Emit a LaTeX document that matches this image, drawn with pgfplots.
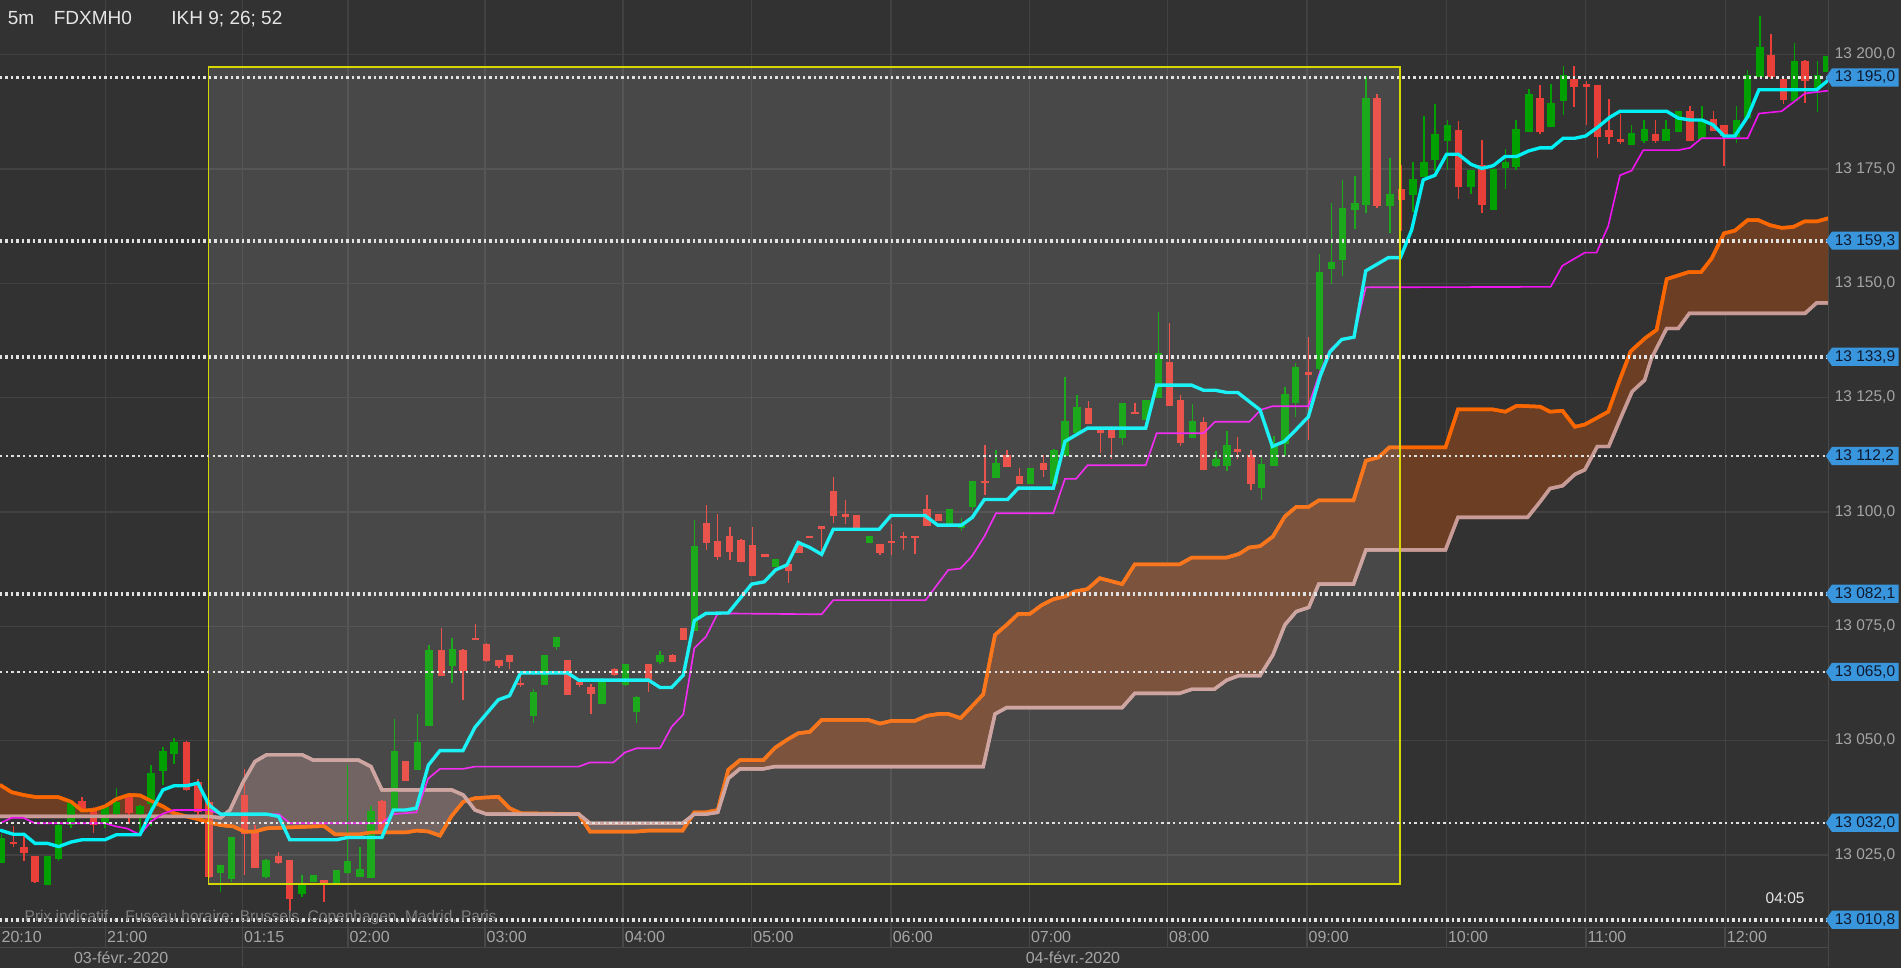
\documentclass[border=0pt]{standalone}
\usepackage{pgfplots}
\pgfplotsset{compat=1.18}
\usepackage{pgfplotstable}
\usepgfplotslibrary{fillbetween}
\usepackage{fontspec}
\setmainfont{Liberation Sans}
\definecolor{bgc}{RGB}{50,50,50}
\definecolor{gridc}{RGB}{66,66,66}
\definecolor{cgreen}{RGB}{0,160,0}
\definecolor{cred}{RGB}{232,64,56}
\definecolor{ccyan}{RGB}{0,240,245}
\definecolor{cmag}{RGB}{240,20,240}
\definecolor{corange}{RGB}{250,102,0}
\definecolor{ctan}{RGB}{200,155,150}
\definecolor{cbrown}{RGB}{108,62,36}
\definecolor{cpink}{RGB}{96,82,80}
\definecolor{cyel}{RGB}{215,215,0}
\definecolor{cdot}{RGB}{225,225,225}
\definecolor{ctick}{RGB}{165,165,165}
\definecolor{cblue}{RGB}{58,150,220}
\definecolor{cbtext}{RGB}{15,25,45}
\definecolor{csep}{RGB}{72,72,72}
\definecolor{ctitle}{RGB}{230,230,230}
\definecolor{cnote}{RGB}{125,125,125}
\newcommand\tickfont{\fontsize{6.2bp}{7bp}\selectfont}
\newcommand\timefont{\fontsize{6.4bp}{7bp}\selectfont}
\newcommand\titlefont{\fontsize{7.6bp}{9bp}\selectfont}

\pgfplotstableread{
x bt bb hi lo
1.4 13028.6 13023.5 13029.5 13023.2
39.3 13024.7 13018.6 13024.8 13018.5
48.4 13031.5 13024.2 13032.5 13023.7
58.6 13036.5 13031.9 13037.0 13030.9
86.6 13035.3 13031.9 13035.9 13030.9
96 13036.6 13034.2 13039.7 13033.8
115.5 13035.6 13034.3 13036.1 13030.1
124.6 13042.8 13036.3 13044.8 13031.5
134.4 13047.6 13043.6 13048.6 13040.3
143.5 13049.6 13047.4 13050.7 13045.0
182 13022.6 13021.3 13022.9 13017.0
191 13028.8 13019.9 13029.0 13019.2
219.4 13023.7 13020.3 13024.0 13020.0
249 13018.4 13016.6 13020.6 13015.9
258.5 13020.6 13019.4 13020.8 13019.2
277.6 13021.5 13018.6 13021.8 13018.4
286.7 13023.6 13021.3 13044.8 13021.0
296.9 13021.7 13020.2 13026.8 13020.1
306 13034.6 13020.2 13035.7 13020.1
325.5 13047.6 13035.2 13054.8 13035.1
344.5 13049.6 13043.6 13055.8 13043.5
353.8 13069.8 13053.4 13070.9 13053.3
373 13069.8 13066.4 13072.6 13062.6
439.9 13060.6 13055.6 13061.4 13053.9
449 13068.7 13062.4 13068.8 13062.3
459.1 13072.5 13070.7 13072.5 13069.9
496.5 13063.5 13058.3 13063.7 13058.2
516 13066.6 13062.4 13066.9 13062.1
525.1 13059.4 13056.5 13059.8 13053.8
544.4 13068.7 13067.4 13069.8 13066.9
572.7 13092.6 13074.3 13098.4 13074.2
639.7 13089.6 13088.2 13089.7 13088.1
717 13094.7 13093.5 13094.7 13093.5
783 13100.6 13097.5 13100.6 13097.5
793.2 13097.0 13096.8 13098.6 13095.9
802 13106.7 13101.3 13106.9 13100.6
821.5 13110.5 13107.5 13113.5 13107.3
849.8 13109.7 13106.4 13109.7 13106.4
869.3 13113.5 13106.4 13113.8 13106.3
878.4 13119.7 13112.3 13129.7 13112.3
888.3 13122.8 13117.4 13125.6 13117.3
926 13123.7 13116.4 13123.9 13114.6
945.3 13124.4 13120.4 13124.4 13120.4
955.7 13134.7 13125.2 13143.6 13124.8
983.8 13119.7 13116.4 13123.7 13116.4
1003 13111.5 13110.2 13113.5 13109.9
1012.1 13114.5 13110.2 13117.7 13108.8
1040.7 13110.4 13105.4 13112.4 13102.6
1050.8 13114.3 13110.2 13116.6 13109.9
1059.9 13125.6 13115.0 13127.5 13112.4
1068.7 13131.6 13124.1 13132.7 13120.8
1088.2 13152.4 13131.4 13156.5 13130.6
1098.4 13154.6 13153.3 13167.5 13149.8
1107.5 13166.4 13155.3 13172.6 13151.6
1117.7 13167.5 13166.2 13173.5 13161.8
1126.7 13190.4 13167.3 13195.5 13165.5
1146.5 13169.4 13167.2 13177.3 13160.9
1165.5 13172.6 13169.3 13176.4 13165.5
1174.5 13176.4 13173.5 13186.6 13173.5
1183.6 13182.6 13177.1 13189.3 13174.6
1194 13184.6 13181.3 13185.7 13174.8
1213.3 13174.8 13171.3 13174.8 13169.6
1231.7 13174.8 13166.2 13174.8 13166.2
1241.6 13176.4 13175.5 13179.5 13170.8
1250.4 13183.5 13175.5 13185.7 13174.8
1261.1 13191.4 13183.4 13192.5 13183.3
1279.3 13189.3 13184.4 13193.5 13184.4
1289.4 13195.5 13190.2 13197.6 13186.8
1345.8 13182.6 13180.4 13184.6 13180.3
1356.2 13183.5 13181.3 13185.7 13180.6
1374.1 13183.5 13181.3 13185.7 13181.2
1384.6 13187.6 13183.4 13187.6 13183.4
1403.8 13185.7 13181.7 13188.8 13181.6
1432.4 13185.7 13182.3 13188.8 13180.6
1441.5 13195.5 13186.4 13196.6 13186.3
1451.7 13201.7 13195.3 13208.6 13195.2
1480 13198.6 13190.2 13202.5 13190.2
1499.2 13195.5 13193.0 13198.6 13187.6
1506.6 13199.6 13196.4 13199.7 13196.3
}\greenT

\pgfplotstableread{
x bt bb hi lo
11 13027.8 13027.5 13031.5 13026.8
19.8 13026.6 13025.5 13029.7 13023.7
28.9 13024.7 13019.3 13024.8 13018.9
67.6 13036.6 13035.3 13037.8 13034.5
77 13034.6 13031.9 13035.6 13029.9
106.4 13037.5 13034.3 13038.3 13031.9
154 13049.6 13039.4 13050.0 13039.1
163.3 13040.7 13034.5 13041.7 13033.8
172.4 13036.3 13020.3 13037.0 13020.0
201.5 13037.8 13029.7 13043.9 13020.6
210.3 13029.9 13022.4 13031.5 13022.4
229.9 13024.8 13023.4 13025.8 13023.2
239 13023.7 13015.6 13024.0 13012.8
267.2 13019.5 13018.8 13019.7 13014.8
315 13036.6 13030.1 13037.0 13029.8
334.3 13045.5 13041.5 13045.7 13041.3
364 13069.8 13064.3 13074.7 13064.3
381.9 13069.8 13065.3 13070.1 13059.0
392.3 13072.4 13072.1 13075.6 13072.1
401.4 13070.9 13067.4 13071.5 13067.3
411.6 13067.6 13066.5 13067.7 13065.8
420.4 13068.7 13067.4 13068.8 13065.8
429.4 13062.5 13062.3 13065.4 13061.8
468.2 13067.6 13060.3 13067.7 13060.3
477.8 13062.7 13062.4 13063.5 13061.9
487.4 13061.6 13060.3 13062.5 13055.9
506.7 13065.6 13064.5 13065.9 13064.3
535 13066.6 13063.4 13066.9 13060.7
554.8 13068.7 13067.4 13068.9 13067.3
563.6 13074.5 13072.2 13074.7 13072.1
582.8 13097.5 13093.5 13101.6 13091.7
592 13093.6 13090.4 13099.5 13089.6
602 13094.7 13091.4 13096.8 13089.6
611.1 13093.7 13089.3 13094.0 13089.2
620.5 13092.8 13086.2 13096.8 13086.1
631 13090.7 13090.4 13090.7 13090.4
650.2 13088.6 13087.3 13088.6 13084.5
659 13093.0 13091.3 13093.2 13091.2
668 13094.7 13094.4 13094.7 13094.4
677.7 13096.9 13096.6 13096.9 13090.6
687.3 13104.6 13099.3 13107.7 13097.5
697.5 13099.4 13099.2 13102.6 13097.5
706.6 13099.4 13096.5 13099.4 13096.5
725.8 13092.8 13091.3 13092.9 13090.6
735.4 13093.6 13093.4 13097.5 13090.7
745.3 13094.7 13094.4 13095.7 13091.6
754.7 13094.7 13094.4 13094.7 13090.7
764.6 13100.6 13097.1 13103.6 13097.0
773.9 13099.4 13098.2 13099.4 13098.2
812.4 13106.7 13106.5 13114.6 13103.7
830.6 13112.4 13110.1 13113.5 13110.0
840.7 13107.7 13106.4 13109.7 13106.4
860.5 13110.5 13109.4 13112.4 13107.7
897.7 13122.8 13119.5 13124.4 13119.4
907.9 13117.7 13117.4 13118.6 13112.8
916.9 13118.6 13116.4 13118.8 13111.7
936.2 13121.8 13121.6 13123.7 13121.5
964.5 13132.7 13123.5 13141.4 13123.4
973.6 13124.4 13115.4 13125.6 13114.6
992.8 13119.7 13109.5 13120.7 13109.5
1020.9 13113.7 13113.4 13116.6 13111.7
1031.9 13112.4 13106.4 13113.5 13104.8
1079.2 13130.6 13130.3 13138.3 13115.7
1135.8 13190.4 13167.2 13191.5 13166.5
1156 13170.6 13168.3 13175.9 13161.6
1203.1 13183.5 13171.3 13185.7 13168.6
1222.3 13175.7 13167.3 13181.5 13165.5
1270.2 13190.4 13183.4 13193.5 13182.8
1298.2 13194.6 13193.2 13197.6 13188.8
1308.7 13193.5 13193.2 13194.4 13184.6
1317.7 13193.3 13182.3 13193.4 13177.5
1327.1 13183.5 13182.3 13190.4 13180.6
1336.7 13181.4 13181.2 13187.0 13180.6
1365.3 13182.6 13181.3 13185.7 13180.6
1393.9 13187.6 13181.3 13188.8 13181.2
1413.2 13185.7 13183.4 13187.6 13183.3
1422 13184.6 13182.3 13184.6 13175.7
1460.7 13199.7 13195.3 13204.6 13194.8
1470.9 13194.4 13190.2 13195.5 13189.3
1488.8 13198.6 13194.4 13198.7 13189.3
}\redT

\pgfplotstableread{
x y
0 13040.3
9.6 13038.7
19.2 13038.1
30.2 13037.6
48.4 13037.6
58.6 13036.6
67.6 13034.7
77 13034.8
86.6 13035.6
96 13037.2
106.4 13038.1
115.5 13038.0
124.6 13036.8
134.4 13035.6
143.5 13034.1
154 13033.4
163.3 13032.8
172.4 13032.1
182 13031.5
192.5 13031.2
201.5 13030.1
210.3 13030.1
220 13030.8
267.2 13031.3
276.3 13029.5
296.9 13029.5
306 13029.9
334.3 13029.9
343.6 13030.3
353.3 13030.1
362.9 13029.2
372.5 13033.5
382.1 13036.6
391.8 13037.4
411 13037.7
420.3 13035.2
429.4 13034.1
477.3 13033.9
486.6 13030.1
525.1 13030.1
534.7 13030.3
563 13030.3
572.7 13034.3
582.3 13034.3
592 13034.8
600.7 13043.6
610.3 13045.7
629.6 13045.7
639.2 13048.4
648.8 13050.1
658.4 13051.6
668 13051.9
677.7 13054.5
716.2 13054.5
725.8 13053.7
735.4 13054.3
754.7 13054.3
764.3 13055.4
773.9 13055.8
782.2 13055.8
792.3 13054.9
801.4 13057.4
811 13060.1
820.7 13073.1
830.3 13075.3
839.9 13077.7
849.5 13077.7
859.2 13079.6
868.8 13080.9
878.4 13081.5
886.6 13082.6
896.9 13083.1
907.1 13085.5
925.6 13084.2
935.9 13088.5
972.8 13088.5
983 13090.0
1011.8 13090.0
1022 13090.8
1030.2 13092.2
1039.3 13092.5
1049.9 13094.6
1059.8 13099.0
1069.2 13101.1
1079.5 13101.1
1087.7 13102.5
1116.4 13102.5
1126.7 13111.2
1136.9 13111.9
1146 13114.1
1192.3 13114.1
1202.6 13122.4
1231.3 13122.4
1241.6 13121.9
1251 13123.2
1270.3 13123.0
1278.5 13121.9
1288.8 13122.1
1299 13118.6
1307.2 13119.1
1326.5 13121.9
1335.9 13128.8
1345 13135.1
1357 13138.0
1366.4 13139.8
1374.7 13150.9
1392.5 13152.4
1403 13152.4
1411.8 13155.4
1422 13160.9
1431 13161.5
1441.5 13163.8
1450.3 13163.8
1459.9 13162.7
1469.5 13162.1
1479.1 13162.3
1488.2 13163.5
1498.4 13163.5
1508 13164.2
}\ssaT

\pgfplotstableread{
x y
0 13033.4
172.4 13033.4
182 13033.1
189.7 13034.8
200.7 13041.0
210.3 13045.4
220 13046.9
249.1 13046.9
258.4 13045.7
295.8 13045.7
306 13044.3
315 13039.2
372.5 13039.2
382.1 13038.1
391.8 13034.8
401.4 13033.9
477.3 13033.9
486.6 13031.9
563 13031.9
572.7 13033.9
582.3 13033.9
592 13034.3
600.7 13041.7
610.3 13043.8
629.6 13043.8
639.2 13044.3
811 13044.3
820.7 13055.8
830.3 13057.2
925.6 13057.2
935.9 13060.3
972.8 13060.3
983 13061.2
1001.5 13061.2
1011.8 13063.2
1022 13064.2
1039.3 13064.2
1049.9 13068.7
1059.8 13075.3
1069.2 13078.2
1079.5 13079.1
1087.7 13084.2
1116.4 13084.2
1126.7 13091.7
1192.3 13091.7
1202.6 13098.8
1260 13098.8
1270.3 13102.2
1278.5 13105.1
1288.8 13105.7
1299 13108.2
1307.2 13109.2
1317.5 13114.3
1326.9 13114.3
1337.2 13120.8
1346.2 13126.3
1356.5 13128.8
1362 13133.5
1374.7 13140.1
1384.3 13140.1
1393.4 13143.4
1488.8 13143.4
1498.4 13145.7
1508 13145.7
}\ssbT

\pgfplotsset{
  wick/.style={draw=none, mark=none, forget plot,
    error bars/y dir=both, error bars/y explicit, error bars/error mark=none,
    error bars/error bar style={draw=#1, solid, line width=0.6bp}},
  body/.style={draw=none, mark=none, forget plot,
    error bars/y dir=both, error bars/y explicit, error bars/error mark=none,
    error bars/error bar style={draw=#1, solid, line width=2.9bp}},
}

\begin{document}
\begin{tikzpicture}
\begin{axis}[
  at={(0,0)}, anchor=south west,
  width=731.38bp, height=371.025bp, scale only axis,
  xmin=0, xmax=1508, ymin=13009.12, ymax=13211.93,
  set layers,
  axis background/.style={fill=bgc, draw=bgc, line width=64bp},
  axis line style={draw=none},
  tick style={draw=none},
  xtick={87,200,287,400,514,620,735,849,963,1078,1193,1308,1423},
  ytick={13025,13050,...,13200},
  xticklabels={}, yticklabels={},
  grid=major, major grid style={draw=gridc, line width=0.55bp},
  clip=true,
]
% Ichimoku cloud (Senkou A / Senkou B)
\addplot[corange, line width=1.4bp, name path=ssa, forget plot] table {\ssaT};
\addplot[ctan, line width=1.35bp, name path=ssb, forget plot] table {\ssbT};
\addplot[fill=cbrown, draw=none, forget plot] fill between[of=ssa and ssb, soft clip={domain=0:154}];
\addplot[fill=cpink, draw=none, forget plot] fill between[of=ssa and ssb, soft clip={domain=154:386}];
\addplot[fill=cbrown, draw=none, forget plot] fill between[of=ssa and ssb, soft clip={domain=386:440}];
\addplot[fill=cpink, draw=none, forget plot] fill between[of=ssa and ssb, soft clip={domain=440:568}];
\addplot[fill=cbrown, draw=none, forget plot] fill between[of=ssa and ssb, soft clip={domain=568:1508}];

% candles
\addplot[wick=cgreen] table[x=x, y expr={(\thisrow{hi}+\thisrow{lo})/2}, y error expr={(\thisrow{hi}-\thisrow{lo})/2}] {\greenT};
\addplot[wick=cred] table[x=x, y expr={(\thisrow{hi}+\thisrow{lo})/2}, y error expr={(\thisrow{hi}-\thisrow{lo})/2}] {\redT};
\addplot[body=cgreen] table[x=x, y expr={(\thisrow{bt}+\thisrow{bb})/2}, y error expr={(\thisrow{bt}-\thisrow{bb})/2+0.15}] {\greenT};
\addplot[body=cred] table[x=x, y expr={(\thisrow{bt}+\thisrow{bb})/2}, y error expr={(\thisrow{bt}-\thisrow{bb})/2+0.15}] {\redT};

% cloud lines again, above the candles
\addplot[corange, line width=1.4bp, forget plot] table {\ssaT};
\addplot[ctan, line width=1.35bp, forget plot] table {\ssbT};

% Kijun (magenta)
\addplot[cmag, line width=0.65bp, forget plot] table {
x y
0 13031.9
9.6 13033.1
19.2 13033.1
28.9 13031.9
86.6 13031.9
96 13031.2
104.5 13030.8
115.5 13029.4
124.6 13032.3
134.4 13034.0
143.5 13034.8
172.4 13034.8
182 13033.9
229.9 13033.9
239 13031.9
314.8 13031.9
324.4 13033.9
343.4 13034.3
353.3 13041.7
362.9 13043.8
381.9 13043.8
391.8 13044.3
477.3 13044.3
486.6 13045.2
505.9 13045.2
515.5 13047.4
525.1 13048.3
544.4 13048.3
554 13053.0
563.6 13055.7
572.7 13070.2
582.3 13072.7
592 13077.8
677.7 13077.6
687.3 13080.7
763.5 13080.7
773.4 13084.2
782.2 13087.3
792.1 13087.6
801.4 13090.2
811.9 13094.6
821.5 13099.7
868.8 13099.7
878.4 13107.2
887.5 13107.2
897.1 13110.2
945 13110.2
954 13117.2
992.6 13117.2
1002.2 13119.7
1030.5 13119.7
1039.9 13122.3
1049.5 13123.1
1079.2 13123.1
1088.8 13130.6
1097 13135.4
1106.7 13137.7
1116.8 13138.2
1126.5 13149.1
1279 13149.2
1288.6 13153.8
1307.3 13156.7
1316.9 13156.7
1326.5 13162.5
1336.2 13173.6
1345.8 13174.6
1355.4 13179.1
1384.3 13179.1
1393.9 13179.6
1403.5 13181.7
1441.5 13181.7
1450.8 13187.1
1469.5 13187.6
1488.8 13191.5
1508 13192.1
};

% Tenkan (cyan)
\addplot[ccyan, line width=1.35bp, forget plot] table {
x y
0 13030.4
11 13029.5
19.8 13029.5
28.9 13027.5
39.3 13027.5
48.4 13026.8
58.6 13027.8
67.6 13028.3
86.6 13028.3
96 13029.4
115.5 13029.4
124.6 13034.5
134.4 13039.2
143.5 13040.1
154 13040.1
163.3 13040.7
172.4 13035.9
182 13033.9
220 13033.9
229.9 13033.4
239 13028.3
277.6 13028.3
286.7 13028.8
315 13028.8
324.4 13034.8
334.3 13034.8
343.4 13035.2
353.3 13044.6
362.9 13047.8
381.9 13047.8
391.8 13052.9
401.4 13055.9
411 13058.9
420.3 13059.8
429.4 13064.8
468.2 13064.8
477.3 13063.2
535 13063.2
544.4 13061.6
554 13061.6
563.6 13064.3
572.7 13076.2
582.3 13077.8
600.7 13077.9
620 13084.2
630.4 13084.7
639.7 13087.3
649.1 13088.4
658.4 13093.3
668 13092.2
677.7 13090.7
687.3 13096.2
725.2 13096.2
734.9 13099.2
762.9 13099.2
773.4 13097.1
793.2 13097.1
802 13098.8
811.9 13102.7
831.1 13102.7
839.9 13105.2
868.8 13105.2
878.4 13115.4
897.1 13118.3
945 13118.3
954 13127.7
982.9 13127.7
992.6 13126.6
1002.2 13126.6
1011.8 13126.1
1020.9 13126.1
1039.3 13122.3
1049.5 13114.3
1059.4 13115.4
1068.7 13117.9
1079.2 13120.8
1088.8 13129.6
1097 13135.0
1106.7 13137.7
1116.8 13138.2
1126.5 13152.7
1145.2 13155.6
1155.1 13155.6
1164.3 13161.6
1173.9 13172.6
1183.6 13173.6
1193.2 13178.2
1202.8 13178.2
1213.3 13176.0
1222.1 13175.1
1231.7 13175.7
1241.3 13177.7
1250.9 13177.7
1260.6 13178.9
1270.2 13179.6
1279.8 13179.6
1289.4 13181.7
1299 13181.7
1307.9 13182.2
1318.3 13184.2
1327.9 13186.3
1336.2 13187.6
1374.7 13187.6
1384.3 13186.1
1393.9 13185.7
1403.5 13185.7
1413.2 13184.6
1422 13182.2
1431 13182.2
1441.5 13186.4
1450.8 13192.3
1498.4 13192.3
1508 13194.4
};

% highlighted zone
\fill[white, fill opacity=0.11] (axis cs:172,13197.35) rectangle (axis cs:1155,13018.66);
\draw[cyel, line width=0.75bp] (axis cs:172,13197.35) rectangle (axis cs:1155,13018.66);

% price levels
\addplot[cdot, line width=1.5bp, dash pattern=on 1bp off 1.2bp, forget plot] coordinates {(0,13195.0) (1508,13195.0)};
\addplot[cdot, line width=1.5bp, dash pattern=on 1bp off 1.2bp, forget plot] coordinates {(0,13159.3) (1508,13159.3)};
\addplot[cdot, line width=1.5bp, dash pattern=on 1bp off 1.2bp, forget plot] coordinates {(0,13133.9) (1508,13133.9)};
\addplot[cdot, line width=0.8bp, dash pattern=on 1bp off 1.3bp, forget plot] coordinates {(0,13112.2) (1508,13112.2)};
\addplot[cdot, line width=1.5bp, dash pattern=on 1bp off 1.2bp, forget plot] coordinates {(0,13082.1) (1508,13082.1)};
\addplot[cdot, line width=0.8bp, dash pattern=on 1bp off 1.3bp, forget plot] coordinates {(0,13065.0) (1508,13065.0)};
\addplot[cdot, line width=0.8bp, dash pattern=on 1bp off 1.3bp, forget plot] coordinates {(0,13032.0) (1508,13032.0)};
\addplot[cdot, line width=1.5bp, dash pattern=on 1bp off 1.2bp, forget plot] coordinates {(0,13010.8) (1508,13010.8)};
\end{axis}

\begin{scope}[x=0.485bp, y=-0.485bp, yshift=371.025bp]
% separators
\draw[csep, line width=0.6bp] (0,765) -- (1508,765);
\draw[csep, line width=0.6bp] (0,781.5) -- (1508,781.5);
\draw[csep, line width=0.6bp] (1508,0) -- (1508,798);
\foreach \xx in {87,200,287,400,514,620,735,849,963,1078,1193,1308,1423}
  \draw[csep, line width=0.6bp] (\xx,765) -- (\xx,781.5);
\draw[csep, line width=0.6bp] (200,781.5) -- (200,798);
% title
\node[anchor=base west, inner sep=0pt, text=ctitle, font=\titlefont] at (6,20) {5m};
\node[anchor=base west, inner sep=0pt, text=ctitle, font=\titlefont] at (44,20) {FDXMH0};
\node[anchor=base west, inner sep=0pt, text=ctitle, font=\titlefont] at (141,20) {IKH 9; 26; 52};
% notes
\node[anchor=base west, inner sep=0pt, text=cnote, font=\tickfont] at (20,760) {Prix indicatif .\ \ Fuseau horaire: Brussels, Copenhagen, Madrid, Paris};
\node[anchor=base west, inner sep=0pt, text=ctitle, font=\tickfont] at (1456,745) {04:05};
% price ticks
\foreach \yy/\lab in {45/{13 200,0}, 139.3/{13 175,0}, 233.6/{13 150,0}, 327.9/{13 125,0}, 422.2/{13 100,0}, 516.5/{13 075,0}, 610.8/{13 050,0}, 705.1/{13 025,0}}
  \node[anchor=west, inner sep=0pt, text=ctick, font=\tickfont] at (1513,\yy) {\lab};
% price level labels
\foreach \yy/\lab in {63.9/{13 195,0}, 198.5/{13 159,3}, 294.3/{13 133,9}, 376.2/{13 112,2}, 489.7/{13 082,1}, 554.2/{13 065,0}, 678.7/{13 032,0}, 758.7/{13 010,8}}{
  \fill[cblue] (1506,\yy) -- (1511,\yy-7.5) -- (1566,\yy-7.5) -- (1566,\yy+7.5) -- (1511,\yy+7.5) -- cycle;
  \node[anchor=west, inner sep=0pt, text=cbtext, font=\tickfont] at (1513,\yy) {\lab};
}
% time labels
\foreach \xx/\lab in {1/20:10, 88/21:00, 201/01:15, 288/02:00, 401/03:00, 515/04:00, 621/05:00, 736/06:00, 850/07:00, 964/08:00, 1079/09:00, 1194/10:00, 1309/11:00, 1424/12:00}
  \node[anchor=west, inner sep=0pt, text=ctick, font=\timefont] at (\xx,773) {\lab};
\node[text=ctick, font=\timefont, inner sep=0pt] at (100,790) {03-févr.-2020};
\node[text=ctick, font=\timefont, inner sep=0pt] at (885,790) {04-févr.-2020};
\end{scope}
\pgfresetboundingbox
\path[use as bounding box] (0,-16.005bp) rectangle (760.48bp,371.025bp);
\end{tikzpicture}
\end{document}
